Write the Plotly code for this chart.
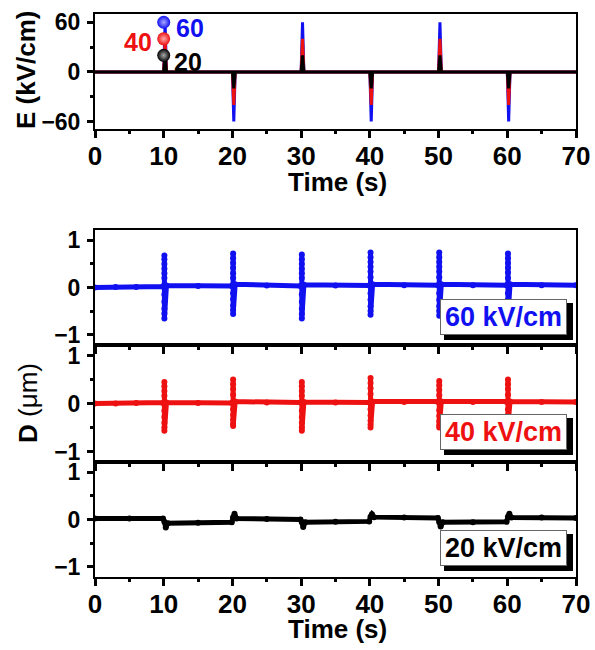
import plotly.graph_objects as go

# ---------------- data ----------------
# Top panel: applied field pulses (kV/cm)
e_time = [0, 10.0, 10.2, 10.4, 20.0, 20.2, 20.4, 30.0, 30.2, 30.4,
          40.0, 40.2, 40.4, 50.0, 50.2, 50.4, 60.0, 60.2, 60.4, 70]
e60 = [0, 0, 60, 0, 0, -60, 0, 0, 60, 0, 0, -60, 0, 0, 60, 0, 0, -60, 0, 0]
e40 = [0, 0, 40, 0, 0, -40, 0, 0, 40, 0, 0, -40, 0, 0, 40, 0, 0, -40, 0, 0]
e20 = [0, 0, 20, 0, 0, -20, 0, 0, 20, 0, 0, -20, 0, 0, 20, 0, 0, -20, 0, 0]
e_labels = ["20", "40", "60"]
e_levels = [20, 40, 60]

# D (um) traces: time and displacement
d60_t = [0, 3, 6, 9.9,
         10.1, 10.1, 10.1, 10.1, 10.1, 10.1, 10.1, 10.1, 10.1, 10.1, 10.1, 10.1, 10.1,
         10.4, 15, 19.9,
         20.1, 20.1, 20.1, 20.1, 20.1, 20.1, 20.1, 20.1, 20.1, 20.1, 20.1, 20.1, 20.1,
         20.4, 25, 29.9,
         30.1, 30.1, 30.1, 30.1, 30.1, 30.1, 30.1, 30.1, 30.1, 30.1, 30.1, 30.1, 30.1,
         30.4, 35, 39.9,
         40.1, 40.1, 40.1, 40.1, 40.1, 40.1, 40.1, 40.1, 40.1, 40.1, 40.1, 40.1, 40.1,
         40.4, 45, 49.9,
         50.1, 50.1, 50.1, 50.1, 50.1, 50.1, 50.1, 50.1, 50.1, 50.1, 50.1, 50.1, 50.1,
         50.4, 55, 59.9,
         60.1, 60.1, 60.1, 60.1, 60.1, 60.1, 60.1, 60.1, 60.1, 60.1, 60.1, 60.1, 60.1,
         60.4, 65, 70]
d60_v = [0.0, 0.01, 0.01, 0.02,
         0.05, 0.68, 0.6, 0.5, 0.4, 0.3, 0.2, 0.05, -0.15, -0.3, -0.45, -0.55, -0.66,
         0.04, 0.03, 0.03,
         0.06, 0.72, 0.62, 0.52, 0.42, 0.3, 0.2, 0.06, -0.12, -0.25, -0.38, -0.48, -0.56,
         0.07, 0.04, 0.03,
         0.05, 0.70, 0.6, 0.5, 0.4, 0.3, 0.2, 0.05, -0.15, -0.3, -0.45, -0.56, -0.66,
         0.06, 0.04, 0.04,
         0.06, 0.74, 0.64, 0.54, 0.44, 0.34, 0.22, 0.06, -0.12, -0.26, -0.4, -0.5, -0.58,
         0.07, 0.05, 0.05,
         0.06, 0.74, 0.64, 0.54, 0.44, 0.34, 0.22, 0.06, -0.12, -0.26, -0.4, -0.5, -0.6,
         0.07, 0.05, 0.05,
         0.07, 0.72, 0.62, 0.52, 0.42, 0.32, 0.2, 0.06, -0.12, -0.26, -0.4, -0.5, -0.6,
         0.07, 0.05, 0.05]

d40_t = [0, 3, 6, 9.9,
         10.1, 10.1, 10.1, 10.1, 10.1, 10.1, 10.1, 10.1, 10.1, 10.1, 10.1,
         10.4, 15, 19.9,
         20.1, 20.1, 20.1, 20.1, 20.1, 20.1, 20.1, 20.1, 20.1, 20.1, 20.1,
         20.4, 25, 29.9,
         30.1, 30.1, 30.1, 30.1, 30.1, 30.1, 30.1, 30.1, 30.1, 30.1, 30.1,
         30.4, 35, 39.9,
         40.1, 40.1, 40.1, 40.1, 40.1, 40.1, 40.1, 40.1, 40.1, 40.1, 40.1,
         40.4, 45, 49.9,
         50.1, 50.1, 50.1, 50.1, 50.1, 50.1, 50.1, 50.1, 50.1, 50.1, 50.1,
         50.4, 55, 59.9,
         60.1, 60.1, 60.1, 60.1, 60.1, 60.1, 60.1, 60.1, 60.1, 60.1, 60.1,
         60.4, 65, 70]
d40_v = [0.0, 0.0, 0.01, 0.01,
         0.02, 0.45, 0.36, 0.26, 0.16, 0.02, -0.15, -0.28, -0.4, -0.5, -0.57,
         0.02, 0.01, 0.01,
         0.03, 0.50, 0.4, 0.3, 0.18, 0.03, -0.12, -0.24, -0.34, -0.42, -0.47,
         0.04, 0.02, 0.02,
         0.03, 0.45, 0.36, 0.26, 0.16, 0.02, -0.15, -0.28, -0.4, -0.5, -0.57,
         0.03, 0.02, 0.02,
         0.04, 0.53, 0.43, 0.32, 0.2, 0.04, -0.12, -0.25, -0.36, -0.44, -0.5,
         0.04, 0.03, 0.03,
         0.04, 0.47, 0.38, 0.28, 0.17, 0.03, -0.14, -0.26, -0.37, -0.45, -0.5,
         0.04, 0.03, 0.03,
         0.04, 0.50, 0.4, 0.3, 0.18, 0.04, -0.12, -0.24, -0.34, -0.42, -0.45,
         0.04, 0.03, 0.03]

d20_t = [0, 5, 9.9, 10.1, 10.3, 10.6, 15, 19.9, 20.1, 20.3, 20.6, 25, 29.9,
         30.1, 30.3, 30.6, 35, 39.9, 40.1, 40.3, 40.6, 45, 49.9, 50.1, 50.3,
         50.6, 55, 59.9, 60.1, 60.3, 60.6, 65, 70]
d20_v = [0.02, 0.02, 0.02, -0.05, -0.17, -0.08, -0.07, -0.06, 0.05, 0.12,
         0.02, 0.01, 0.0, -0.06, -0.16, -0.06, -0.05, -0.04, 0.06, 0.11, 0.05,
         0.04, 0.03, -0.06, -0.15, -0.06, -0.06, -0.05, 0.06, 0.12, 0.04, 0.04,
         0.03]

box_labels = ["60 kV/cm", "40 kV/cm", "20 kV/cm"]

# ---------------- styling ----------------
BLUE = "#1010f0"
RED = "#ee1111"
BLACK = "#000000"
FONT = "Liberation Sans"
W, H = 595, 650


def px(x):
    return x / W


def py(y):
    return 1 - y / H


fig = go.Figure()

# top panel E traces
for vals, col in [(e60, BLUE), (e40, RED), (e20, BLACK)]:
    fig.add_trace(go.Scatter(x=e_time, y=vals, mode="lines",
                             line=dict(color=col, width=3), xaxis="x", yaxis="y",
                             showlegend=False, hoverinfo="skip"))

# balls
ball_cols = [BLACK, RED, BLUE]
fig.add_trace(go.Scatter(x=[10.0] * 3, y=e_levels, mode="markers",
                         marker=dict(size=13, color=ball_cols,
                                     gradient=dict(type="radial", color=["#aaaaaa", "#ffaaaa", "#aaaaff"]),
                                     line=dict(width=0)),
                         xaxis="x", yaxis="y", showlegend=False, hoverinfo="skip"))

# D traces
for t, v, col, ax in [(d60_t, d60_v, BLUE, "2"), (d40_t, d40_v, RED, "3"), (d20_t, d20_v, BLACK, "4")]:
    fig.add_trace(go.Scatter(x=t, y=v, mode="lines+markers",
                             line=dict(color=col, width=5),
                             marker=dict(color=col, size=6),
                             xaxis="x" + ax, yaxis="y" + ax,
                             showlegend=False, hoverinfo="skip"))

xdom = [px(95), px(576)]
tickfont_x = dict(family=FONT, size=26, color="black", weight="bold")
tickfont_y = dict(family=FONT, size=23, color="black", weight="bold")


def xax(anchor, labels):
    return dict(domain=xdom, anchor=anchor, range=[0, 70], tickmode="array",
                tickvals=[0, 10, 20, 30, 40, 50, 60, 70], automargin=False,
                showticklabels=labels, ticks="outside", ticklen=7, tickwidth=2.5,
                tickcolor="black", showline=True, linewidth=2, linecolor="black",
                mirror=True, showgrid=False, zeroline=False, tickfont=tickfont_x,
                ticklabelstandoff=-4,
                minor=dict(tickvals=[5, 15, 25, 35, 45, 55, 65], ticks="outside",
                           ticklen=3, tickwidth=3, tickcolor="black"))


def yax(anchor, dom, rng, tv, mv):
    return dict(domain=dom, anchor=anchor, range=rng, tickmode="array", tickvals=tv,
                automargin=False,
                ticks="outside", ticklen=6, tickwidth=2.5, tickcolor="black",
                showline=True, linewidth=2, linecolor="black", mirror=True,
                showgrid=False, zeroline=False, tickfont=tickfont_y,
                ticklabelstandoff=2,
                minor=dict(tickvals=mv, ticks="outside", ticklen=3, tickwidth=2.5,
                           tickcolor="black"))


fig.update_layout(
    width=W, height=H, margin=dict(l=0, r=0, t=0, b=0, autoexpand=False),
    paper_bgcolor="white", plot_bgcolor="white", showlegend=False,
    xaxis=xax("y", True),
    yaxis=yax("x", [py(129), py(14)], [-69, 70], [-60, 0, 60], [-30, 30]),
    xaxis2=xax("y2", False),
    yaxis2=yax("x2", [py(345), py(230)], [-1.22, 1.22], [-1, 0, 1], [-0.5, 0.5]),
    xaxis3=xax("y3", False),
    yaxis3=yax("x3", [py(462), py(345)], [-1.22, 1.22], [-1, 0, 1], [-0.5, 0.5]),
    xaxis4=xax("y4", True),
    yaxis4=yax("x4", [py(577), py(462)], [-1.22, 1.22], [-1, 0, 1], [-0.5, 0.5]),
)

annos = []
titlefont = dict(family=FONT, size=26, color="black", weight="bold")


def anno(text, x, y, font, **kw):
    d = dict(text=text, x=px(x), y=py(y), xref="paper", yref="paper",
             xanchor="center", yanchor="middle", showarrow=False, font=font)
    d.update(kw)
    annos.append(d)


anno("E (kV/cm)", 26, 70, titlefont, textangle=-90)
anno("Time (s)", 337, 182, titlefont)
anno("Time (s)", 337, 629, titlefont)
anno("<b>D</b> (μm)", 28, 403, dict(family=FONT, size=26, color="black"), textangle=-90)

# E level labels
for lab, col, xc, yc in [("60", BLUE, 190, 28), ("40", RED, 138, 42), ("20", BLACK, 188, 62)]:
    anno(lab, xc, yc, dict(family=FONT, size=25, color=col, weight="bold"))

# boxed labels with shadows
shapes = []
for lab, col, ytop in [(box_labels[0], BLUE, 298), (box_labels[1], RED, 413), (box_labels[2], BLACK, 529)]:
    shapes.append(dict(type="rect", xref="paper", yref="paper", x0=px(444), x1=px(573),
                       y0=py(ytop + 42), y1=py(ytop + 5), fillcolor="black",
                       line=dict(width=0), layer="above"))
    anno(lab, 503.5, ytop + 18.5, dict(family=FONT, size=27, color=col, weight="bold"),
         width=125, height=34, bgcolor="white", bordercolor="#666666",
         borderwidth=1, borderpad=0)

fig.update_layout(annotations=annos, shapes=shapes)
fig.write_html("out.html")
